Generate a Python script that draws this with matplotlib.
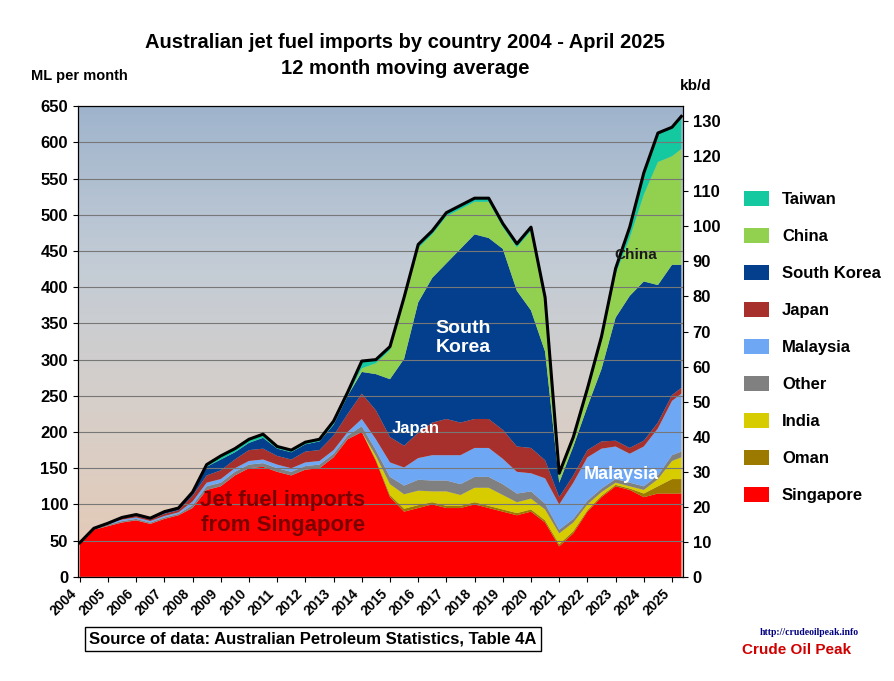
import numpy as np
import matplotlib.pyplot as plt
from matplotlib.colors import LinearSegmentedColormap

plt.rcParams['font.family'] = 'Liberation Sans'
plt.rcParams['font.weight'] = 'bold'

# half-yearly points 2004.0 ... 2025.0, plus April 2025
years = [2004 + 0.5 * i for i in range(43)] + [2025.33]

singapore = [45, 65, 70, 75, 78, 73, 80, 85, 95, 120, 125, 140, 150, 152, 145, 140, 148, 150, 165, 190,
             200, 160, 110, 90, 95, 100, 95, 95, 100, 95, 90, 85, 90, 75, 42, 60, 90, 110, 125, 120,
             110, 115, 115, 115]
oman = [0] * 21 + [2, 3, 4, 4, 3, 3, 3, 3, 3, 3, 3, 3, 3, 3, 3, 2, 2, 2, 2, 5, 10, 20, 20]
india = [0] * 21 + [5, 15, 20, 20, 15, 20, 15, 20, 25, 20, 15, 15, 15, 15, 12, 8, 5, 3, 3, 5, 10, 25, 30]
other = [2, 2, 2, 2, 2, 2, 2, 2] + [4] + [5] * 11 + [8, 8, 10, 12, 15, 15, 15, 15, 15, 15, 15, 12,
                                                   10, 8, 5, 5, 5, 5, 5, 5, 5, 5, 8, 8]
malaysia = [0, 0, 2, 2, 2, 2, 2, 2] + [5] * 12 + [10, 15, 20, 25, 30, 35, 35, 40, 40, 40, 35, 30,
                                                   25, 35, 35, 50, 60, 55, 45, 40, 55, 65, 75, 80]
japan = [0, 0, 0, 2, 2, 2, 3, 3, 8, 10, 12, 12, 15, 15, 12, 12, 15, 15, 20, 25,
         35, 40, 35, 30, 35, 45, 50, 45, 40, 40, 40, 35, 35, 25, 10, 10, 10, 10, 8, 8, 8, 8, 8, 8]
south_korea = [0, 0, 0, 1, 2, 2, 3, 3, 5, 12, 15, 10, 10, 15, 10, 10, 10, 12, 15, 25,
               30, 50, 80, 120, 180, 200, 215, 240, 255, 250, 250, 215, 190, 150, 20, 40, 60, 100,
               170, 210, 220, 190, 180, 170]
china = [0] * 20 + [5, 15, 40, 80, 75, 60, 65, 55, 45, 50, 30, 60, 110, 70, 10, 10, 20, 40, 60, 80,
                    120, 170, 150, 160]
taiwan = [0] * 9 + [3, 5, 5, 5, 5, 3, 3, 3, 3, 5, 5] + [10, 5, 5, 5, 5, 5, 5, 5, 5, 5, 5, 5, 5, 5,
                                                         3, 3, 5, 5, 8, 15, 30, 40, 40, 45]

series = [singapore, oman, india, other, malaysia, japan, south_korea, china, taiwan]
names = ['Singapore', 'Oman', 'India', 'Other', 'Malaysia', 'Japan', 'South Korea', 'China', 'Taiwan']
colors = ['#ff0000', '#9c7a00', '#d6cc00', '#808080', '#6ea8f5', '#a8302c', '#033f8c', '#92d050', '#14c8a0']

fig = plt.figure(figsize=(8.94, 6.81), dpi=100)
ax = fig.add_axes([0.087, 0.153, 0.677, 0.691])

# sky-like background in place of the photo
grad = LinearSegmentedColormap.from_list('sky', ['#9fb4cc', '#c3ccd6', '#d8cfc8', '#e6c9b4'])
ax.imshow(np.linspace(0, 1, 200).reshape(-1, 1), aspect='auto', cmap=grad,
          extent=[2003.93, 2025.39, 0, 650], zorder=0)

polys = ax.stackplot(years, *series, colors=colors, zorder=2)
total = np.sum(np.array(series), axis=0)
ax.plot(years, total, color='black', lw=2.2, zorder=3)

ax.set_xlim(2003.93, 2025.39)
ax.set_ylim(0, 650)
ax.set_yticks(range(0, 651, 50))
ax.set_xticks(range(2004, 2026))
ax.set_xticklabels([str(y) for y in range(2004, 2026)], rotation=45, ha='right', fontsize=10)
ax.tick_params(axis='y', labelsize=12)
ax.grid(axis='y', color='#777777', lw=0.8, zorder=1)
ax.set_axisbelow(False)

ax2 = ax.twinx()
ax2.set_ylim(0, 650 / 4.84)
ax2.set_yticks(range(0, 131, 10))
ax2.tick_params(axis='y', labelsize=12)

fig.text(0.453, 0.938, 'Australian jet fuel imports by country 2004 - April 2025',
         ha='center', va='center', fontsize=14.5)
fig.text(0.453, 0.9, '12 month moving average', ha='center', va='center', fontsize=14.5)
fig.text(0.035, 0.882, 'ML per month', fontsize=10.5)
fig.text(0.76, 0.868, 'kb/d', fontsize=11)

ax.text(2011.2, 88, 'Jet fuel imports\nfrom Singapore', color='#7a0000', fontsize=16,
        ha='center', va='center', zorder=4)
ax.text(2017.6, 330, 'South\nKorea', color='white', fontsize=14, ha='center', va='center', zorder=4)
ax.text(2015.9, 205, 'Japan', color='white', fontsize=12, ha='center', va='center', zorder=4)
ax.text(2023.2, 142, 'Malaysia', color='white', fontsize=13, ha='center', va='center', zorder=4)
ax.text(2023.7, 445, 'China', color='#1a1a1a', fontsize=11, ha='center', va='center', zorder=4)

handles = polys[::-1]
fig.legend(handles, names[::-1], loc='center left', bbox_to_anchor=(0.815, 0.49),
           frameon=False, fontsize=12, labelspacing=1.25, handlelength=1.5, handleheight=1.0)

fig.text(0.1, 0.055, 'Source of data: Australian Petroleum Statistics, Table 4A', fontsize=12,
         bbox=dict(facecolor='white', edgecolor='black', pad=3))
fig.text(0.85, 0.068, 'http://crudeoilpeak.info', fontsize=7, color='#000080', family='Liberation Serif')
fig.text(0.83, 0.04, 'Crude Oil Peak', fontsize=11, color='#d00000')

fig.savefig('out.png', dpi=100)
